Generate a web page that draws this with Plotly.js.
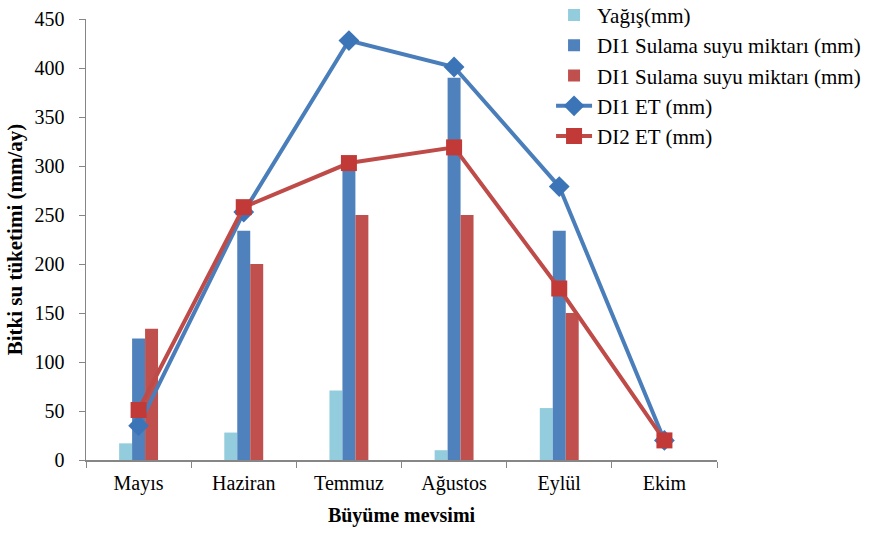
<!DOCTYPE html>
<html><head><meta charset="utf-8">
<script src="https://cdn.plot.ly/plotly-3.0.1.min.js"></script>
<style>body{margin:0;background:#fff}#c{width:869px;height:535px}</style>
</head><body><div id="c"></div>
<script>
const months = ["Mayıs","Haziran","Temmuz","Ağustos","Eylül","Ekim"];
const rain = [17, 28, 71, 10, 53, 0];
const di1Irr = [124, 234, 305, 390, 234, 0];
const di2Irr = [134, 200, 250, 250, 150, 0];
const di1ET = [35, 253, 428, 401, 279, 20];
const di2ET = [51, 258, 303, 319, 175, 20];
const names = ["Yağış(mm)","DI1 Sulama suyu miktarı (mm)","DI1 Sulama suyu miktarı (mm)","DI1 ET (mm)","DI2 ET (mm)"];

const font = "'Liberation Serif', 'Times New Roman', serif";
const traces = [
  {type:"bar", x:months, y:rain, name:names[0], marker:{color:"#93CDDD"}},
  {type:"bar", x:months, y:di1Irr, name:names[1], marker:{color:"#4F81BD"}},
  {type:"bar", x:months, y:di2Irr, name:names[2], marker:{color:"#C0504D"}},
  {type:"scatter", mode:"lines+markers", x:months, y:di1ET, name:names[3],
   line:{color:"#4A7EBB", width:4}, marker:{symbol:"diamond", size:16, color:"#3C74B8"}},
  {type:"scatter", mode:"lines+markers", x:months, y:di2ET, name:names[4],
   line:{color:"#BE4B48", width:4}, marker:{symbol:"square", size:16, color:"#C23A37"}}
];
const layout = {
  width:869, height:535,
  margin:{l:86, r:152, t:19, b:75, autoexpand:false},
  paper_bgcolor:"#fff", plot_bgcolor:"#fff",
  font:{family:font, size:20, color:"#000"},
  barmode:"group", bargap:0.63, bargroupgap:0,
  showlegend:true,
  legend:{x:0.737, y:1.055, xanchor:"left", yanchor:"top", bgcolor:"rgba(0,0,0,0)",
          font:{family:font, size:21, color:"#000"}, itemwidth:36, tracegroupgap:0, traceorder:"normal"},
  xaxis:{type:"category", showgrid:false, showline:true, linecolor:"#868686", linewidth:1.5,
         ticks:"outside", ticklen:6, tickcolor:"#868686", tickson:"boundaries",
         ticklabelstandoff:4,
         tickfont:{family:font, size:20, color:"#000"},
         title:{text:"<b>Büyüme mevsimi</b>", font:{family:font, size:20, color:"#000"}, standoff:14}},
  yaxis:{range:[0,450], dtick:50, showgrid:false, showline:true, linecolor:"#868686", linewidth:1.5,
         ticks:"outside", ticklen:6, tickcolor:"#868686", zeroline:false,
         ticklabelstandoff:10,
         tickfont:{family:font, size:20, color:"#000"},
         title:{text:"<b>Bitki su tüketimi (mm/ay)</b>", font:{family:font, size:21, color:"#000"}, standoff:6}}
};
Plotly.newPlot("c", traces, layout, {displayModeBar:false, staticPlot:true});
</script></body></html>
